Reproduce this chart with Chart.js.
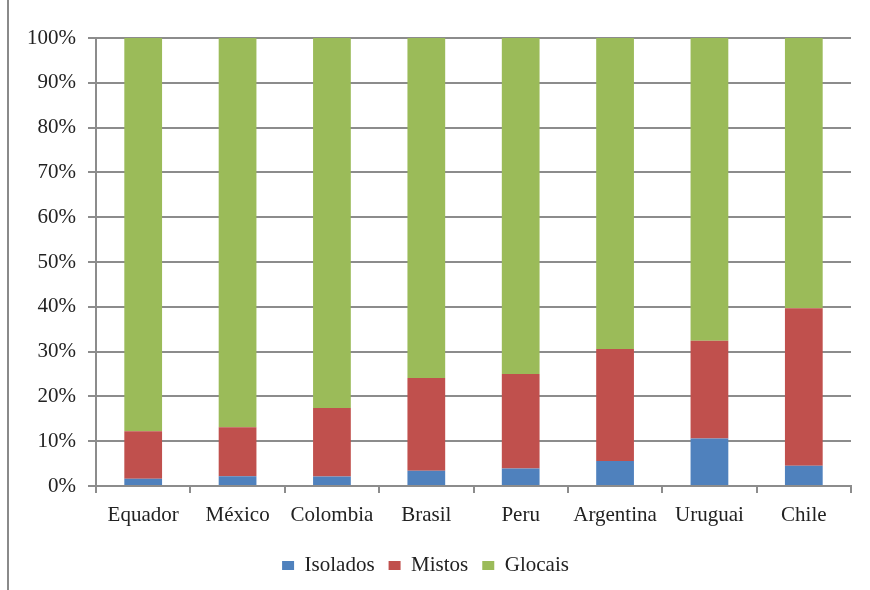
<!DOCTYPE html>
<html>
<head>
<meta charset="utf-8">
<script src="https://cdn.jsdelivr.net/npm/chart.js@4.4.0/dist/chart.umd.min.js"></script>
<style>
  html, body { margin: 0; padding: 0; background: #fff; }
  #wrap { position: relative; width: 870px; height: 590px; }
  #frame { position: absolute; left: 7px; top: 0; width: 2px; height: 590px; background: #8a8a8a; }
</style>
</head>
<body>
<div id="wrap">
  <div id="frame"></div>
  <canvas id="chart" width="870" height="590"></canvas>
</div>
<script>
// Share of each type per country (%)
const countries = ['Equador', 'México', 'Colombia', 'Brasil', 'Peru', 'Argentina', 'Uruguai', 'Chile'];
const isolados = [1.6, 2.2, 2.1, 3.4, 3.9, 5.6, 10.6, 4.5];
const mistos = [10.6, 10.9, 15.3, 20.7, 21.1, 25.0, 21.8, 35.2];
const glocais = [87.8, 86.9, 82.6, 75.9, 75.0, 69.4, 67.6, 60.3];

const FONT = { family: '"Liberation Serif", "DejaVu Serif", serif', size: 21 };
const GRID = '#8c8c8c';

Chart.defaults.font.family = FONT.family;
Chart.defaults.color = '#222';

const series = [
  { label: 'Isolados', data: isolados, backgroundColor: '#4F81BD' },
  { label: 'Mistos', data: mistos, backgroundColor: '#C0504D' },
  { label: 'Glocais', data: glocais, backgroundColor: '#9BBB59' },
];

new Chart(document.getElementById('chart'), {
  type: 'bar',
  data: {
    labels: countries,
    datasets: series.map(s => ({
      ...s,
      barPercentage: 0.4,
      categoryPercentage: 1,
      borderWidth: 0,
    })),
  },
  options: {
    responsive: false,
    animation: false,
    layout: { padding: { left: 0, right: 19, top: 38, bottom: 4 } },
    scales: {
      x: {
        stacked: true,
        offset: true,
        grid: { offset: true, drawOnChartArea: false, color: GRID, lineWidth: 2, tickLength: 7 },
        border: { color: GRID, width: 2 },
        ticks: { font: FONT, color: '#222', padding: 10, maxRotation: 0 },
        afterFit: s => { s.height = 55; },
      },
      y: {
        stacked: true,
        min: 0,
        max: 100,
        grid: { color: GRID, lineWidth: 2, tickLength: 8 },
        border: { color: GRID, width: 2 },
        ticks: { stepSize: 10, font: FONT, color: '#222', padding: 12, callback: v => v + '%' },
        afterFit: s => { s.width = 96; },
      },
    },
    plugins: {
      legend: {
        position: 'bottom',
        labels: { font: FONT, color: '#222', boxWidth: 12, boxHeight: 9, padding: 14 },
      },
      tooltip: { enabled: false },
    },
  },
});
</script>
</body>
</html>
